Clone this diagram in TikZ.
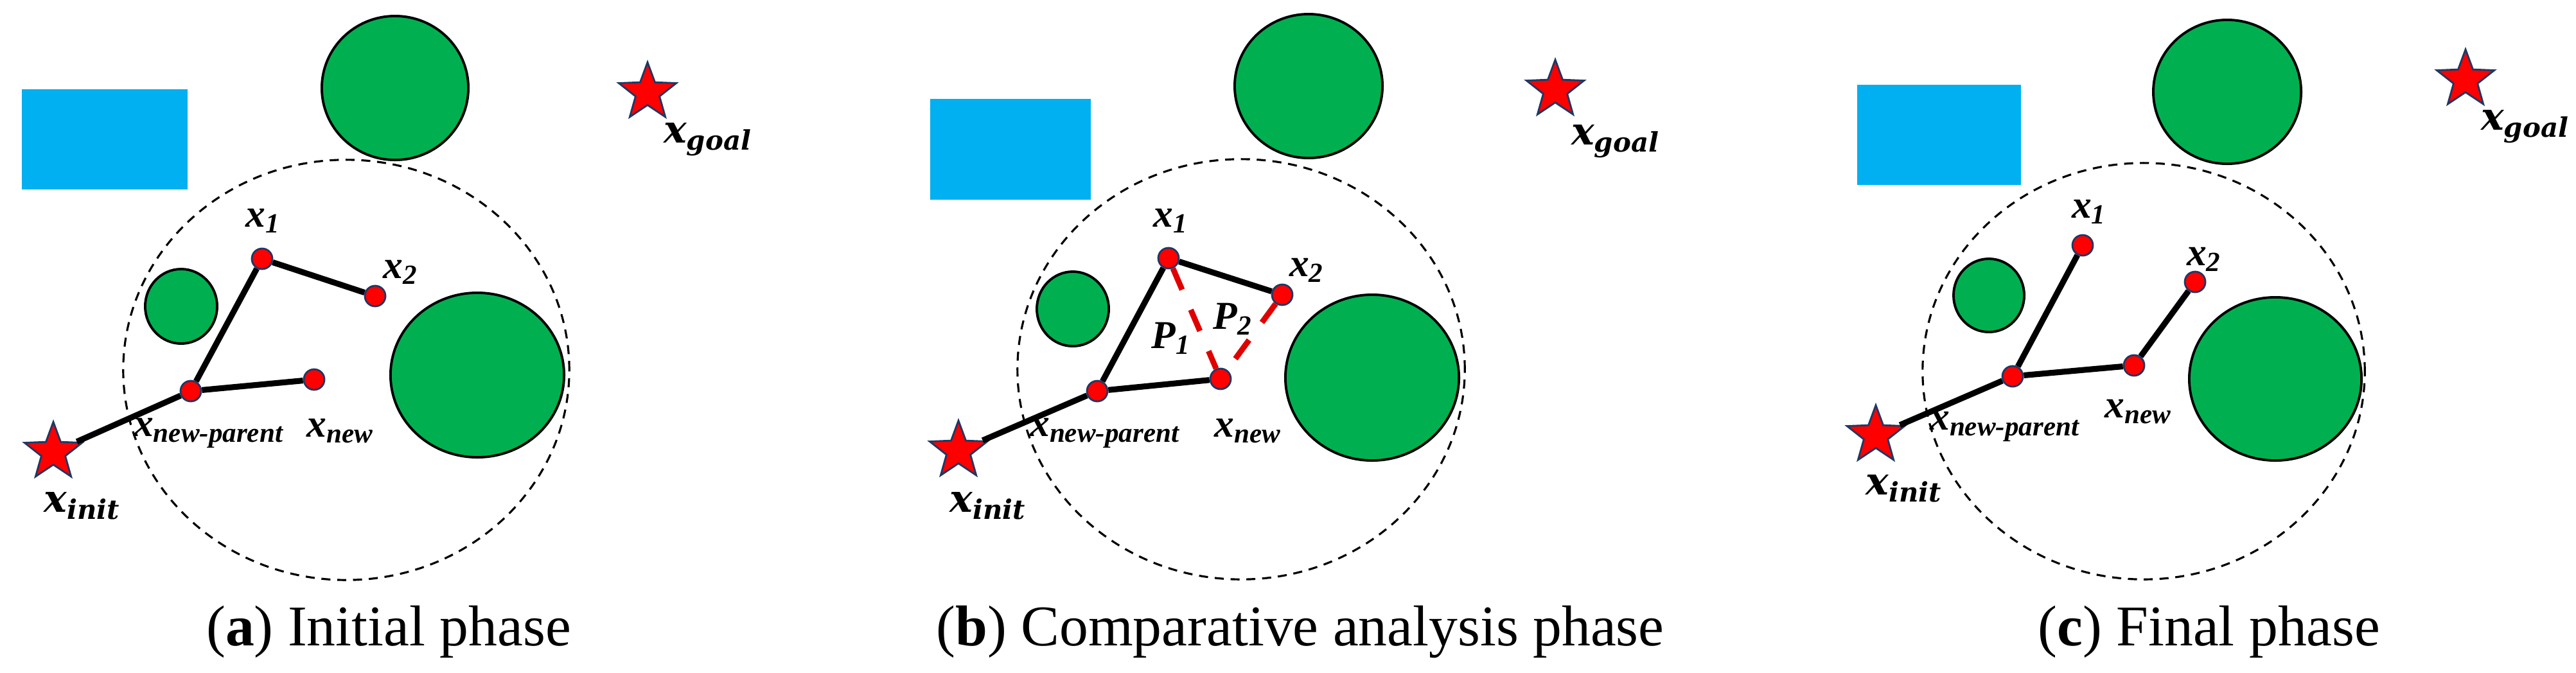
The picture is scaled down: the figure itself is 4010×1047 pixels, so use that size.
\documentclass[tikz,border=0pt]{standalone}
\usepackage{fontspec}
\setmainfont{Liberation Serif}
\newfontfamily\lblfont{Liberation Serif}
\newfontfamily\endfont{DejaVu Serif}
\usetikzlibrary{shapes.geometric}
\definecolor{obgreen}{HTML}{00B050}
\definecolor{obblue}{HTML}{00B0F0}
\definecolor{navy}{HTML}{1F3864}
\tikzset{
  vertex/.style={circle,draw=navy,fill=red,line width=0.8pt,inner sep=0pt,minimum size=0.32cm},
  endstar/.style={star,star points=5,star point ratio=2.4,draw=navy,fill=red,line width=0.8pt,inner sep=0pt,minimum size=0.94cm},
  treeedge/.style={line width=2.6pt},
  rewire/.style={red!88!black,line width=2.5pt,dash pattern=on 0.36cm off 0.34cm},
  obst/.style={fill=obgreen,draw=black,line width=1.1pt},
  block/.style={fill=obblue},
  nbhd/.style={dash pattern=on 4pt off 3pt,line width=0.9pt},
  lbl/.style={font=\lblfont\bfseries\itshape\fontsize{17.5}{20}\selectfont,inner sep=0pt},
  endlbl/.style={font=\endfont\bfseries\itshape\fontsize{17}{20}\selectfont,inner sep=0pt},
  capt/.style={font=\fontsize{25.5}{30}\selectfont,anchor=base}
}
\begin{document}
\begin{tikzpicture}[x=0.01cm,y=-0.01cm]
	\useasboundingbox (0,0) rectangle (4010,1047);

	% (a) initial phase
	\fill[block] (34,139) rectangle (292,295);
	\draw[obst] (615,137) ellipse [x radius=1.14cm, y radius=1.12cm];
	\draw[nbhd] (539,576) ellipse [x radius=3.47cm, y radius=3.27cm];
	\draw[obst] (282,477) ellipse [x radius=0.56cm, y radius=0.58cm];
	\draw[obst] (743,584) ellipse [x radius=1.35cm, y radius=1.28cm];
	\node[endstar] (goala) at (1008,144) {};
	\node[endstar] (inita) at (83,704) {};
	\node[vertex] (x1a) at (408,403) {};
	\node[vertex] (x2a) at (584,461) {};
	\node[vertex] (npa) at (297,609) {};
	\node[vertex] (xna) at (489,591) {};
	\draw[treeedge] (inita)--(npa)--(x1a)--(x2a);
	\draw[treeedge] (npa)--(xna);
	\node[endlbl] (lgoala) at (1102,217) {x\textsubscript{goal}};
	\node[endlbl] (linita) at (128,788) {x\textsubscript{init}};
	\node[lbl] (lx1a) at (410,344) {x\textsubscript{1}};
	\node[lbl] (lx2a) at (624,424) {x\textsubscript{2}};
	\node[lbl] (lnpa) at (325,674) {x\textsubscript{new-parent}};
	\node[lbl] (lxna) at (530,671) {x\textsubscript{new}};
	\node[capt] (capa) at (605,1005) {(\textbf{a}) Initial phase};

	% (b) comparative analysis phase
	\fill[block] (1448,154) rectangle (1698,311);
	\draw[obst] (2037,134) ellipse [x radius=1.15cm, y radius=1.12cm];
	\draw[nbhd] (1932,575) ellipse [x radius=3.48cm, y radius=3.27cm];
	\draw[obst] (1670,481) ellipse [x radius=0.56cm, y radius=0.58cm];
	\draw[obst] (2136,588) ellipse [x radius=1.35cm, y radius=1.29cm];
	\node[endstar] (goalb) at (2421,140) {};
	\node[endstar] (initb) at (1492,702) {};
	\node[vertex] (x1b) at (1819,402) {};
	\node[vertex] (x2b) at (1996,459) {};
	\node[vertex] (npb) at (1708,609) {};
	\node[vertex] (xnb) at (1900,590) {};
	\draw[treeedge] (initb)--(npb)--(x1b)--(x2b);
	\draw[treeedge] (npb)--(xnb);
	\draw[rewire] (x1b)--(xnb);
	\draw[rewire] (x2b)--(xnb);
	\node[endlbl] (lgoalb) at (2515,220) {x\textsubscript{goal}};
	\node[endlbl] (linitb) at (1538,788) {x\textsubscript{init}};
	\node[lbl] (lx1b) at (1823,344) {x\textsubscript{1}};
	\node[lbl] (lx2b) at (2034,421) {x\textsubscript{2}};
	\node[lbl] (lnpb) at (1720,674) {x\textsubscript{new-parent}};
	\node[lbl] (lxnb) at (1943,671) {x\textsubscript{new}};
	\node[lbl] (lp1) at (1823,527) {P\textsubscript{1}};
	\node[lbl] (lp2) at (1919,497) {P\textsubscript{2}};
	\node[capt] (capb) at (2024,1005) {(\textbf{b}) Comparative analysis phase};

	% (c) final phase
	\fill[block] (2891,132) rectangle (3146,288);
	\draw[obst] (3467,143) ellipse [x radius=1.15cm, y radius=1.12cm];
	\draw[nbhd] (3337,578) ellipse [x radius=3.44cm, y radius=3.24cm];
	\draw[obst] (3096,460) ellipse [x radius=0.55cm, y radius=0.57cm];
	\draw[obst] (3542,590) ellipse [x radius=1.34cm, y radius=1.27cm];
	\node[endstar] (goalc) at (3838,124) {};
	\node[endstar] (initc) at (2920,678) {};
	\node[vertex] (x1c) at (3242,382) {};
	\node[vertex] (x2c) at (3417,439) {};
	\node[vertex] (npc) at (3133,586) {};
	\node[vertex] (xnc) at (3322,569) {};
	\draw[treeedge] (initc)--(npc)--(x1c);
	\draw[treeedge] (npc)--(xnc)--(x2c);
	\node[endlbl] (lgoalc) at (3931,197) {x\textsubscript{goal}};
	\node[endlbl] (linitc) at (2964,761) {x\textsubscript{init}};
	\node[lbl] (lx1c) at (3252,330) {x\textsubscript{1}};
	\node[lbl] (lx2c) at (3431,404) {x\textsubscript{2}};
	\node[lbl] (lnpc) at (3121,664) {x\textsubscript{new-parent}};
	\node[lbl] (lxnc) at (3329,641) {x\textsubscript{new}};
	\node[capt] (capc) at (3439,1005) {(\textbf{c}) Final phase};
\end{tikzpicture}
\end{document}
